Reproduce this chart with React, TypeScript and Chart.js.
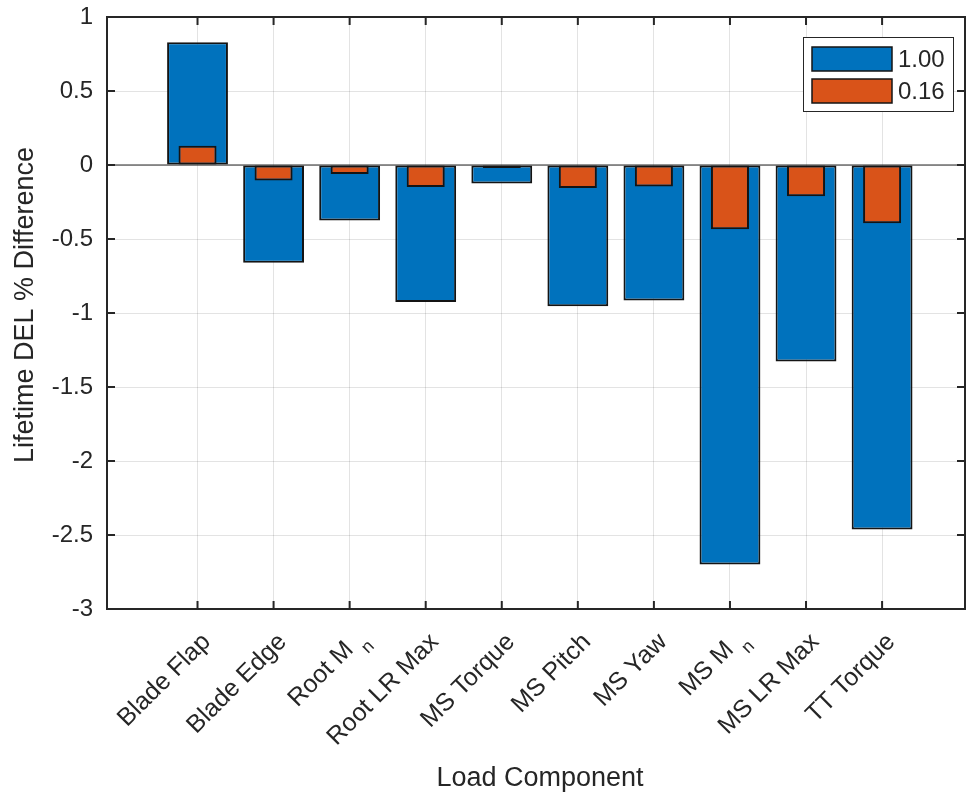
import React, { useEffect, useRef } from "react";
import { Chart, registerables } from "chart.js";

Chart.register(...registerables);

// Load components along the x axis ("_n" marks a subscript)
const categories = [
  "Blade Flap",
  "Blade Edge",
  "Root M_n",
  "Root LR Max",
  "MS Torque",
  "MS Pitch",
  "MS Yaw",
  "MS M_n",
  "MS LR Max",
  "TT Torque",
];

// Legend labels for the two series
const seriesLabels = ["1.00", "0.16"];

// Lifetime DEL % difference per component
const values100 = [0.83, -0.66, -0.375, -0.925, -0.125, -0.955, -0.915, -2.7, -1.328, -2.463];
const values016 = [0.13, -0.105, -0.06, -0.148, -0.02, -0.155, -0.146, -0.434, -0.211, -0.393];

// y-axis tick values
const yTicks = [1, 0.5, 0, -0.5, -1, -1.5, -2, -2.5, -3];

const FONT = '"Liberation Sans", Arial, Helvetica, sans-serif';
const TEXT = "#262626";
const GRID = "rgba(38,38,38,0.13)";
const EDGE = "#141414";
const BLUE = "#0072BD";
const ORANGE = "#D95319";
const TICK_FONT = 24;
const XLABEL_FONT = 25;
const TITLE_FONT = 27;

// Category label rotated 45°, right end anchored at (x, y); "_" starts a subscript
function drawTickLabel(ctx: CanvasRenderingContext2D, label: string, x: number, y: number) {
  const [main, sub] = label.split("_");
  ctx.save();
  ctx.translate(x, y);
  ctx.rotate(-Math.PI / 4);
  ctx.fillStyle = TEXT;
  ctx.textBaseline = "alphabetic";
  if (!sub) {
    ctx.font = `${XLABEL_FONT}px ${FONT}`;
    ctx.textAlign = "right";
    ctx.fillText(main, 0, 0);
  } else {
    const subSize = Math.round(XLABEL_FONT * 0.72);
    ctx.textAlign = "left";
    ctx.font = `${subSize}px ${FONT}`;
    const ws = ctx.measureText(sub).width;
    ctx.font = `${XLABEL_FONT}px ${FONT}`;
    const head = main + " ";
    const wm = ctx.measureText(head).width;
    ctx.fillText(head, -(wm + ws) + 5, -1);
    ctx.font = `${subSize}px ${FONT}`;
    ctx.fillText(sub, -ws + 5, 11);
  }
  ctx.restore();
}

const matlabAxes = {
  id: "matlabAxes",
  beforeDatasetsDraw(chart: any) {
    const { ctx, chartArea: a, scales } = chart;
    const y0 = scales.y.getPixelForValue(0);
    ctx.save();
    ctx.strokeStyle = TEXT;
    ctx.lineWidth = 1;
    ctx.beginPath();
    ctx.moveTo(a.left, y0);
    ctx.lineTo(a.right, y0);
    ctx.stroke();
    ctx.restore();
  },
  afterDraw(chart: any) {
    const { ctx, chartArea: a, scales } = chart;
    const xs = scales.x;
    const ys = scales.y;
    ctx.save();

    // axes box
    ctx.strokeStyle = TEXT;
    ctx.lineWidth = 2;
    ctx.strokeRect(a.left, a.top, a.right - a.left, a.bottom - a.top);

    // inward tick marks
    const tl = 8;
    ctx.beginPath();
    yTicks.forEach((v) => {
      const py = ys.getPixelForValue(v);
      ctx.moveTo(a.left, py);
      ctx.lineTo(a.left + tl, py);
      ctx.moveTo(a.right, py);
      ctx.lineTo(a.right - tl, py);
    });
    categories.forEach((_, i) => {
      const px = xs.getPixelForValue(i + 1);
      ctx.moveTo(px, a.bottom);
      ctx.lineTo(px, a.bottom - tl);
      ctx.moveTo(px, a.top);
      ctx.lineTo(px, a.top + tl);
    });
    ctx.stroke();

    // rotated category labels
    categories.forEach((c, i) => {
      const px = xs.getPixelForValue(i + 1);
      drawTickLabel(ctx, c, px + 14, a.bottom + 34);
    });

    // axis titles
    ctx.fillStyle = TEXT;
    ctx.font = `${TITLE_FONT}px ${FONT}`;
    ctx.textAlign = "center";
    ctx.textBaseline = "alphabetic";
    ctx.fillText("Load Component", (a.left + a.right) / 2 + 4, 786);
    ctx.save();
    ctx.translate(33, 305);
    ctx.rotate(-Math.PI / 2);
    ctx.fillText("Lifetime DEL % Difference", 0, 0);
    ctx.restore();

    // legend (inside, top right)
    const lx = 803, ly = 37, lw = 150, lh = 74;
    ctx.fillStyle = "#ffffff";
    ctx.fillRect(lx, ly, lw, lh);
    ctx.strokeStyle = TEXT;
    ctx.lineWidth = 1;
    ctx.strokeRect(lx + 0.5, ly + 0.5, lw, lh);
    const colors = [BLUE, ORANGE];
    seriesLabels.forEach((lab, i) => {
      const sy = ly + 10 + i * 32;
      ctx.fillStyle = colors[i];
      ctx.fillRect(812, sy, 80, 24);
      ctx.strokeStyle = EDGE;
      ctx.lineWidth = 1.5;
      ctx.strokeRect(812, sy, 80, 24);
      ctx.fillStyle = TEXT;
      ctx.font = `${TICK_FONT}px ${FONT}`;
      ctx.textAlign = "left";
      ctx.textBaseline = "middle";
      ctx.fillText(lab, 898, sy + 13);
    });

    ctx.restore();
  },
};

function noScalePadding(s: any) {
  s.paddingTop = 0;
  s.paddingBottom = 0;
  s.paddingLeft = 0;
  s.paddingRight = 0;
}

export default function App() {
  const canvasRef = useRef<HTMLCanvasElement | null>(null);

  useEffect(() => {
    const canvas = canvasRef.current;
    if (!canvas) return;
    const chart = new Chart(canvas, {
      type: "bar",
      data: {
        datasets: [
          {
            label: seriesLabels[0],
            data: values100.map((v, i) => ({ x: i + 1, y: v })),
            backgroundColor: BLUE,
            borderColor: EDGE,
            borderWidth: 2,
            borderSkipped: false,
            grouped: false,
            barPercentage: 0.8,
            categoryPercentage: 1,
            order: 1,
          },
          {
            label: seriesLabels[1],
            data: values016.map((v, i) => ({ x: i + 1, y: v })),
            backgroundColor: ORANGE,
            borderColor: EDGE,
            borderWidth: 2,
            borderSkipped: false,
            grouped: false,
            barPercentage: 0.5,
            categoryPercentage: 1,
            order: 0,
          },
        ],
      } as any,
      options: {
        responsive: false,
        animation: false,
        devicePixelRatio: 1,
        layout: { padding: { top: 17, right: 1, left: 0, bottom: 0 } },
        plugins: { legend: { display: false }, tooltip: { enabled: false } },
        scales: {
          x: {
            type: "linear",
            offset: false,
            min: -0.19,
            max: 11.09,
            afterBuildTicks: (s: any) => {
              s.ticks = categories.map((_, i) => ({ value: i + 1 }));
            },
            afterFit: (s: any) => {
              s.height = 183;
              noScalePadding(s);
            },
            ticks: { display: false },
            grid: { color: GRID, lineWidth: 1, drawTicks: false, offset: false },
            border: { display: false },
          },
          y: {
            type: "linear",
            min: -3,
            max: 1,
            afterBuildTicks: (s: any) => {
              s.ticks = yTicks.slice().reverse().map((v) => ({ value: v }));
            },
            afterFit: (s: any) => {
              s.width = 107;
              noScalePadding(s);
            },
            ticks: {
              color: TEXT,
              font: { family: FONT, size: TICK_FONT },
              padding: 14,
              autoSkip: false,
              callback: (v: any) => String(v),
            },
            grid: { color: GRID, lineWidth: 1, drawTicks: false },
            border: { display: false },
          },
        },
      } as any,
      plugins: [matlabAxes],
    });
    return () => chart.destroy();
  }, []);

  return (
    <div style={{ position: "absolute", left: 0, top: 0, width: 966, height: 792, background: "#ffffff" }}>
      <canvas ref={canvasRef} width={966} height={792} style={{ display: "block" }} />
    </div>
  );
}
